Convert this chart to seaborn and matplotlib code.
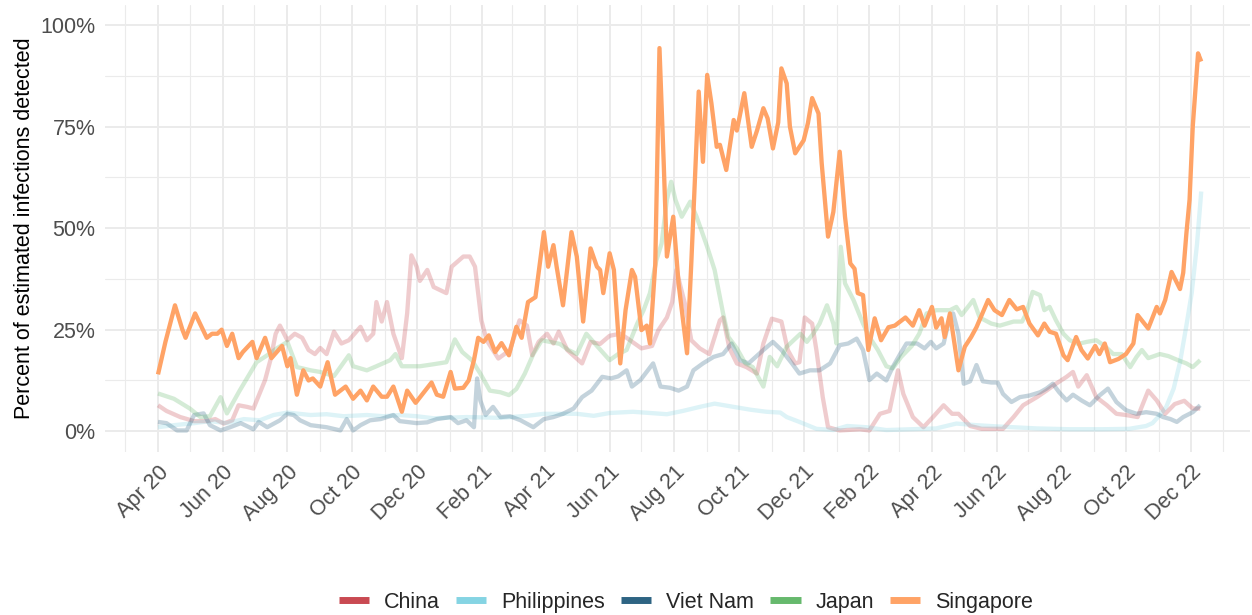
import numpy as np
import pandas as pd
import matplotlib
matplotlib.use("Agg")
import matplotlib.pyplot as plt
import matplotlib.dates as mdates
from matplotlib.lines import Line2D
from matplotlib.ticker import FixedLocator, FuncFormatter
import seaborn as sns

START = "2020-04-01"

countries = ["China", "Philippines", "Viet Nam", "Japan", "Singapore"]

# days since START and percent of estimated infections detected
china_days = [0, 8, 21, 34, 46, 54, 62, 70, 76, 84, 90, 101, 106, 111, 115, 122, 129, 136, 142, 148,
              153, 159, 166, 173, 180, 191, 197, 203, 206, 211, 216, 222, 230, 235, 239, 244, 247, 254,
              260, 272, 277, 288, 294, 299, 305, 310, 321, 332, 341, 348, 353, 359, 367, 373, 378, 386,
              400, 408, 417, 426, 436, 442, 456, 466, 472, 480, 485, 489, 492, 497, 503, 511, 520, 530,
              533, 539, 546, 555, 565, 571, 579, 588, 594, 601, 605, 610, 617, 621, 627, 632, 643, 662,
              671, 681, 690, 698, 703, 712, 722, 731, 741, 749, 755, 766, 777, 797, 807, 816, 829, 838,
              847, 857, 863, 868, 876, 885, 895, 904, 913, 924, 934, 942, 950, 959, 968, 976, 983]
china_vals = [6.4, 5, 3.5, 2.5, 2.5, 3, 1.9, 2.7, 6.4, 6, 5.6, 12.6, 17.5, 24, 26, 22.4, 24, 23, 20, 19,
              20.5, 19, 24.5, 21.6, 22.4, 25.7, 22.4, 24, 31.8, 27, 31.8, 24, 18, 29, 43.3, 40.5, 37, 39.7,
              35.5, 34, 40.5, 43, 43, 40.5, 27.3, 22.4, 17.9, 20, 27.3, 26, 18.7, 22, 24, 21.6, 24.5, 20,
              16.7, 22, 21.5, 23.5, 24, 23, 20.4, 21, 24.9, 28, 31.8, 39.7, 36.5, 31.4, 22.4, 20.4, 19, 27.3,
              28, 20.4, 16.7, 15.8, 14.2, 21.6, 27.7, 27, 20, 16.7, 17, 28, 26.5, 20, 8.4, 1, 0.2, 0.5,
              0.2, 4.3, 5, 15, 9.2, 3.5, 1, 3.5, 6.4, 4.3, 4.3, 1.3, 0.6, 0.6, 3.5, 6.4, 8.4, 10,
              11.7, 13.4, 14.6, 11, 13.8, 8.4, 6.4, 4.3, 4, 3.5, 10, 7.6, 4.3, 6.7, 7.5, 5.6, 5.6]

phil_days = [0, 15, 34, 49, 65, 81, 96, 109, 122, 144, 159, 175, 197, 213, 228, 244, 260, 291, 323, 348,
             364, 395, 411, 426, 448, 464, 480, 495, 511, 525, 543, 559, 574, 587, 593, 606, 621, 637,
             650, 668, 687, 734, 753, 772, 791, 829, 860, 891, 916, 932, 938, 945, 951, 958, 964, 970,
             975, 980, 984]
phil_vals = [1, 1.5, 2, 2.5, 2, 3, 2.7, 4, 4.6, 4, 4.2, 3.7, 4, 3.7, 4, 3.7, 3.2, 3.5, 3.3, 3.8,
             4.3, 4.3, 3.8, 4.5, 4.8, 4.5, 4.2, 5, 6, 6.8, 6, 5.3, 4.8, 4.6, 3.5, 2.2, 0.6, 0.3,
             1.3, 1, 0.3, 0.7, 1.9, 1.5, 1.2, 0.7, 0.5, 0.5, 0.6, 1.3, 2, 4, 6, 10.5, 17, 26,
             34, 46, 59]

viet_days = [0, 8, 18, 27, 34, 43, 49, 59, 68, 78, 90, 95, 103, 115, 122, 128, 134, 144, 159, 172,
             178, 184, 191, 200, 210, 222, 228, 244, 254, 263, 276, 283, 291, 298, 301, 304, 309, 316,
             323, 332, 342, 354, 364, 373, 382, 392, 400, 409, 419, 427, 434, 442, 447, 455, 467, 474,
             483, 491, 499, 505, 514, 524, 533, 541, 549, 557, 571, 580, 588, 598, 605, 615, 624, 634,
             643, 651, 659, 665, 671, 678, 687, 693, 700, 706, 716, 723, 729, 734, 741, 745, 750, 755,
             760, 766, 772, 778, 786, 792, 797, 805, 813, 822, 832, 838, 844, 850, 857, 863, 871, 879,
             888, 896, 904, 913, 923, 932, 942, 948, 955, 961, 967, 976, 983]
viet_vals = [2.3, 2, 0.2, 0.2, 4, 4.4, 1.5, 0.2, 1, 2, 0.5, 2.3, 1, 2.7, 4.3, 4, 2.7, 1.5, 1, 0.2,
             3, 0.2, 1.5, 2.7, 3, 4, 2.5, 2, 2.2, 3, 3.5, 2, 2.7, 1, 13, 7.6, 4, 6,
             3.5, 3.7, 2.7, 1, 3, 3.5, 4.3, 5.6, 8.4, 10, 13.4, 13, 13.5, 15, 11, 12.6, 16.7, 11,
             10.7, 10, 11, 15, 16.7, 18.3, 19, 21.6, 17.5, 16.7, 20, 22, 20, 16.7, 14.2, 15, 15, 16.7,
             21.2, 21.6, 22.8, 20, 12.6, 14.2, 12.5, 15.8, 19, 21.6, 21.6, 20.4, 22, 20.4, 21.6, 26, 29, 24,
             11.7, 12.3, 16.3, 12.3, 12, 12, 9.2, 7.2, 8.4, 8.8, 9.6, 10.5, 11.7, 9.6, 7.6, 9, 7.6, 6.4,
             8.8, 10.5, 7.2, 5.2, 4.3, 4.7, 4.3, 3.5, 3, 2.3, 3.5, 4.7, 6.4]

japan_days = [0, 15, 30, 40, 49, 59, 65, 77, 93, 103, 112, 122, 131, 144, 153, 166, 180, 184, 197, 206,
              219, 224, 230, 247, 260, 272, 280, 287, 296, 304, 313, 323, 331, 338, 346, 354, 362, 379,
              387, 395, 404, 414, 426, 434, 442, 452, 458, 464, 470, 475, 480, 484, 488, 494, 502, 508,
              518, 525, 533, 538, 546, 554, 561, 571, 577, 584, 593, 606, 612, 618, 624, 631, 637, 640,
              644, 648, 656, 665, 671, 679, 687, 693, 701, 711, 718, 725, 734, 747, 753, 758, 769, 775,
              786, 794, 807, 815, 819, 825, 832, 836, 841, 847, 854, 860, 868, 876, 885, 893, 901, 909,
              917, 923, 928, 934, 945, 953, 962, 970, 976, 983]
japan_vals = [9.3, 8, 5.6, 3.5, 3.7, 8.4, 4.4, 10, 17, 18.7, 20.4, 22, 15.8, 15, 14.6, 13.6, 18.7, 16, 15, 16,
              17.5, 19, 16, 16, 16.5, 17, 22.6, 19.5, 17.5, 14.2, 10, 9.6, 8.9, 10.4, 14.2, 19, 22.4, 21.5,
              20, 19, 24, 21, 17.5, 19, 20, 26.5, 29.8, 34, 42, 46.2, 57, 61.4, 57, 52.8, 56.5, 52.8,
              45.4, 39.7, 29, 23.2, 20.4, 16.7, 15.8, 11, 18.3, 16, 20.8, 24, 22, 24, 26.5, 31, 26.5, 21.6,
              45.4, 36.4, 32.3, 26.5, 23.2, 20, 16, 15.5, 18.3, 21, 24, 29, 29.8, 29.8, 30.6, 28.6, 32.3, 28,
              26.5, 26, 27, 27, 29, 34.3, 33.5, 29.8, 30.6, 27.3, 24, 22.4, 21.5, 22, 22.4, 21, 19, 19,
              15.8, 18.3, 20, 18, 19, 18.5, 17.5, 16.7, 15.8, 17.5]

sing_days = [0, 7, 16, 23, 26, 35, 46, 51, 56, 60, 65, 70, 76, 80, 89, 93, 101, 107, 117, 122,
             125, 131, 137, 142, 146, 153, 160, 167, 177, 184, 191, 197, 203, 211, 216, 222, 230, 235,
             243, 252, 258, 263, 269, 276, 280, 288, 293, 298, 302, 307, 312, 318, 324, 331, 338, 343,
             349, 356, 364, 368, 373, 376, 382, 390, 395, 401, 408, 414, 417, 420, 426, 430, 436, 441,
             447, 450, 456, 461, 464, 469, 473, 477, 480, 486, 491, 499, 503, 510, 514, 518, 522, 527,
             530, 536, 543, 546, 553, 560, 565, 571, 575, 580, 585, 588, 593, 596, 601, 605, 609, 613,
             617, 623, 626, 632, 637, 643, 648, 653, 657, 660, 665, 670, 676, 682, 689, 695, 705, 712,
             718, 723, 730, 734, 739, 742, 747, 755, 761, 767, 772, 783, 789, 796, 803, 810, 816, 822,
             830, 836, 841, 847, 854, 858, 866, 871, 877, 884, 888, 893, 898, 906, 913, 920, 924, 934,
             942, 945, 950, 956, 964, 967, 970, 973, 976, 981, 984]
sing_vals = [14, 22, 31, 25, 23, 29, 23, 24, 24, 25, 21, 24, 18, 19.5, 22, 18, 23, 18, 21, 16,
             18, 9, 15, 12.5, 13, 11, 17, 9, 11, 8, 10, 7.6, 11, 8.5, 8.5, 11, 4.8, 10,
             7, 10, 12, 9, 8.5, 14.6, 10.5, 10.7, 12.5, 17.5, 23, 22, 23.6, 19.5, 21.7, 18.7, 25.7, 23,
             31.8, 33, 49, 40.5, 45.8, 40.5, 31, 49, 43, 27, 45, 40.5, 39.7, 34, 43.8, 39.7, 16.7, 29.8,
             39.7, 38, 24.9, 26, 21.6, 41, 94.3, 66, 43, 52.8, 36.4, 19.2, 41.3, 83.6, 66.3, 87.7, 80.7, 70,
             70.5, 64.3, 76.6, 74, 83.2, 70, 74, 79.5, 77, 69.6, 76, 89.3, 85.6, 75, 68.4, 70, 71.6, 75.8,
             82, 78.2, 66, 47.9, 54, 68.8, 52.8, 41.3, 40, 34, 33.5, 20, 27.8, 22.4, 25.6, 26, 28, 26,
             29.8, 26, 30.6, 25.5, 27.8, 23.2, 29, 15, 20.8, 23.2, 25.6, 32.3, 29.8, 28.6, 32.3, 30, 30.6, 26.5,
             23.6, 26.5, 24.5, 24, 18.7, 17.5, 23.2, 20, 17.9, 21, 19, 21.6, 17, 17.8, 19, 21.6, 28.6, 25.3,
             30.6, 29, 32.3, 39.2, 35, 39, 48.7, 57, 75, 93, 91]

palette = {"China": "#C94A52", "Philippines": "#85D4E3", "Viet Nam": "#2E6483",
           "Japan": "#66B96D", "Singapore": "#FFA366"}
alphas = {"China": 0.28, "Philippines": 0.28, "Viet Nam": 0.28, "Japan": 0.28, "Singapore": 1.0}

series = {"China": (china_days, china_vals), "Philippines": (phil_days, phil_vals),
          "Viet Nam": (viet_days, viet_vals), "Japan": (japan_days, japan_vals),
          "Singapore": (sing_days, sing_vals)}

start = pd.Timestamp(START)
frames = []
for c in countries:
    d, v = series[c]
    frames.append(pd.DataFrame({"date": start + pd.to_timedelta(d, unit="D"),
                                "value": v, "country": c}))
df = pd.concat(frames, ignore_index=True)

sns.set_theme(style="white")
plt.rcParams["font.family"] = ["Liberation Sans", "DejaVu Sans"]

fig = plt.figure(figsize=(12.52, 6.15), dpi=100)
ax = fig.add_axes([105 / 1252, 1 - 452 / 615, 1145 / 1252, 447 / 615])

for c in countries:
    sub = df[df["country"] == c]
    sns.lineplot(data=sub, x="date", y="value", ax=ax, color=palette[c],
                 alpha=alphas[c], linewidth=3.1, estimator=None, sort=False,
                 solid_capstyle="butt", solid_joinstyle="round")

ax.set_xlim(start - pd.Timedelta(days=50), start + pd.Timedelta(days=1030))
ax.set_ylim(-5.1, 104.9)

major_dates = pd.date_range("2020-04-01", "2022-12-01", freq="2MS")
minor_dates = pd.date_range("2020-03-01", "2023-01-01", freq="2MS")
ax.xaxis.set_major_locator(FixedLocator(mdates.date2num(major_dates)))
ax.xaxis.set_minor_locator(FixedLocator(mdates.date2num(minor_dates)))
ax.xaxis.set_major_formatter(mdates.DateFormatter("%b %y"))
ax.yaxis.set_major_locator(FixedLocator([0, 25, 50, 75, 100]))
ax.yaxis.set_minor_locator(FixedLocator([12.5, 37.5, 62.5, 87.5]))
ax.yaxis.set_major_formatter(FuncFormatter(lambda v, p: f"{int(v)}%"))

ax.grid(which="major", color="#EBEBEB", linewidth=1.4)
ax.grid(which="minor", color="#EBEBEB", linewidth=0.8)
ax.set_axisbelow(True)
for s in ax.spines.values():
    s.set_visible(False)
ax.tick_params(axis="both", which="both", length=0)
ax.tick_params(axis="y", labelsize=15.5, labelcolor="#4D4D4D", pad=7)
ax.tick_params(axis="x", labelsize=15.5, labelcolor="#4D4D4D", pad=7)
for lab in ax.get_xticklabels():
    lab.set_rotation(45)
    lab.set_ha("right")
    lab.set_va("top")
    lab.set_rotation_mode("anchor")

ax.set_xlabel("")
ax.set_ylabel("Percent of estimated infections detected", fontsize=15.5, color="black", labelpad=4)
if ax.get_legend() is not None:
    ax.get_legend().remove()

handles = [Line2D([0], [0], color=palette[c], lw=5, solid_capstyle="butt") for c in countries]
fig.legend(handles, countries, loc="center", bbox_to_anchor=(0.548, 0.021), ncol=5,
           frameon=False, fontsize=15.5, handlelength=1.4, handletextpad=0.7,
           columnspacing=0.75)

fig.savefig("out.png", dpi=100)
